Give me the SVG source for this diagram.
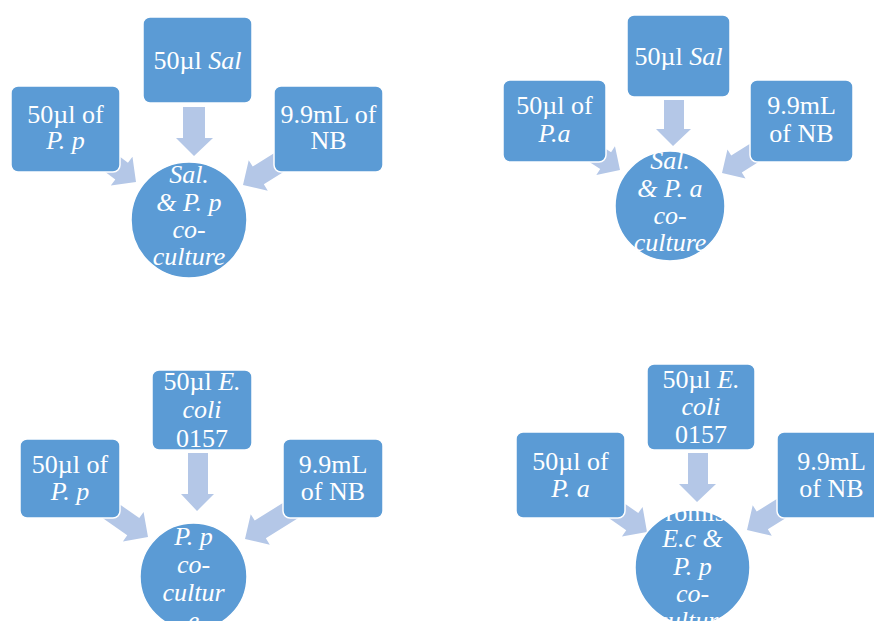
<svg xmlns="http://www.w3.org/2000/svg" xmlns:xlink="http://www.w3.org/1999/xlink" width="874" height="621" viewBox="0 0 874 621">
  <style>
    .box { fill: #5B9BD5; stroke: #FFFFFF; stroke-width: 1.5; }
    .hub { fill: #5B9BD5; stroke: #FFFFFF; stroke-width: 1.5; }
    .arrow { fill: #B4C7E7; }
    text { font-family: "Liberation Serif", "Times New Roman", serif; font-size: 26px; fill: #FFFFFF; text-anchor: middle; }
    .it { font-style: italic; }
  </style>
  <defs>
    <!-- block arrow pointing along +x, tip at origin -->
    <path id="blk" d="M0,0 L-18,-18 L-18,-10.5 L-70,-10.5 L-70,10.5 L-18,10.5 L-18,18 Z"/>
    <clipPath id="c1"><circle cx="189" cy="220" r="58"/></clipPath>
    <clipPath id="c2"><circle cx="670" cy="206" r="55"/></clipPath>
    <clipPath id="c3"><circle cx="193.5" cy="576.5" r="53.5"/></clipPath>
    <clipPath id="c4"><circle cx="692.5" cy="567.5" r="57.5"/></clipPath>
  </defs>

  <g id="connectors" class="arrow">
    <!-- panel 1 -->
    <path d="M183,107 L205,107 L205,138 L213,138 L194,156 L176,138 L183,138 Z"/>
    <use xlink:href="#blk" transform="translate(136,182) rotate(37)"/>
    <use xlink:href="#blk" transform="translate(243,185) rotate(148)"/>
    <!-- panel 2 -->
    <path d="M664,100 L684,100 L684,129 L691,129 L673,146 L656,129 L664,129 Z"/>
    <use xlink:href="#blk" transform="translate(620,170) rotate(33) scale(0.95)"/>
    <use xlink:href="#blk" transform="translate(722,173) rotate(148) scale(0.95)"/>
    <!-- panel 3 -->
    <path d="M188,453 L208,453 L208,494 L214,494 L197,511 L181,494 L188,494 Z"/>
    <use xlink:href="#blk" transform="translate(148,537) rotate(35)"/>
    <use xlink:href="#blk" transform="translate(245,539) rotate(148)"/>
    <!-- panel 4 -->
    <path d="M688,453 L708,453 L708,484 L716,484 L697,502 L679,484 L688,484 Z"/>
    <use xlink:href="#blk" transform="translate(647,532) rotate(35)"/>
    <use xlink:href="#blk" transform="translate(747,530) rotate(148)"/>
  </g>

  <!-- panel 1: Sal. & P. p -->
  <g id="hub1">
    <circle class="hub" cx="189" cy="220" r="58"/>
    <g clip-path="url(#c1)">
      <text x="189" y="183" class="it">Sal.</text>
      <text x="189" y="211" class="it">&amp; P. p</text>
      <text x="189" y="238" class="it">co-</text>
      <text x="189" y="265" class="it">culture</text>
    </g>
  </g>
  <g id="p1-top">
    <rect class="box" x="143" y="17" width="109" height="86" rx="7"/>
    <text x="197.5" y="69">50µl <tspan class="it">Sal</tspan></text>
  </g>
  <g id="p1-left">
    <rect class="box" x="11" y="86" width="109" height="86" rx="7"/>
    <text x="65.5" y="123">50µl of</text>
    <text x="65.5" y="149" class="it">P. p</text>
  </g>
  <g id="p1-right">
    <rect class="box" x="274" y="86" width="109" height="86" rx="7"/>
    <text x="328.5" y="123">9.9mL of</text>
    <text x="328.5" y="149">NB</text>
  </g>

  <!-- panel 2: Sal. & P. a -->
  <g id="hub2">
    <circle class="hub" cx="670" cy="206" r="55"/>
    <g clip-path="url(#c2)">
      <text x="670" y="169" class="it">Sal.</text>
      <text x="670" y="197" class="it">&amp; P. a</text>
      <text x="670" y="224" class="it">co-</text>
      <text x="670" y="251" class="it">culture</text>
    </g>
  </g>
  <g id="p2-top">
    <rect class="box" x="627" y="15" width="103" height="82" rx="7"/>
    <text x="678.5" y="65">50µl <tspan class="it">Sal</tspan></text>
  </g>
  <g id="p2-left">
    <rect class="box" x="503" y="80" width="103" height="82" rx="7"/>
    <text x="554.5" y="114">50µl of</text>
    <text x="554.5" y="142" class="it">P.a</text>
  </g>
  <g id="p2-right">
    <rect class="box" x="750" y="80" width="103" height="82" rx="7"/>
    <text x="801.5" y="114">9.9mL</text>
    <text x="801.5" y="142">of NB</text>
  </g>

  <!-- panel 3: P. p with E. coli -->
  <g id="hub3">
    <circle class="hub" cx="193.5" cy="576.5" r="53.5"/>
    <g clip-path="url(#c3)">
      <text x="193.5" y="545" class="it">P. p</text>
      <text x="193.5" y="573" class="it">co-</text>
      <text x="193.5" y="601" class="it">cultur</text>
      <text x="193.5" y="629" class="it">e</text>
    </g>
  </g>
  <g id="p3-top">
    <rect class="box" x="152" y="370" width="100" height="80" rx="7"/>
    <text x="202" y="390">50µl <tspan class="it">E.</tspan></text>
    <text x="202" y="418" class="it">coli</text>
    <text x="202" y="447">0157</text>
  </g>
  <g id="p3-left">
    <rect class="box" x="20" y="439" width="100" height="79" rx="7"/>
    <text x="70" y="473">50µl of</text>
    <text x="70" y="500" class="it">P. p</text>
  </g>
  <g id="p3-right">
    <rect class="box" x="283" y="439" width="100" height="79" rx="7"/>
    <text x="333" y="473">9.9mL</text>
    <text x="333" y="500">of NB</text>
  </g>

  <!-- panel 4: E.c & P. p with P. a -->
  <g id="hub4">
    <circle class="hub" cx="692.5" cy="567.5" r="57.5"/>
    <g clip-path="url(#c4)">
      <text x="688" y="521">Promis</text>
      <text x="692.5" y="547" class="it">E.c &amp;</text>
      <text x="692.5" y="575" class="it">P. p</text>
      <text x="692.5" y="602" class="it">co-</text>
      <text x="692.5" y="629" class="it">culture</text>
    </g>
  </g>
  <g id="p4-top">
    <rect class="box" x="647" y="364" width="108" height="86" rx="7"/>
    <text x="701" y="388">50µl <tspan class="it">E.</tspan></text>
    <text x="701" y="415" class="it">coli</text>
    <text x="701" y="443">0157</text>
  </g>
  <g id="p4-left">
    <rect class="box" x="516" y="432" width="109" height="86" rx="7"/>
    <text x="570.5" y="470">50µl of</text>
    <text x="570.5" y="497" class="it">P. a</text>
  </g>
  <g id="p4-right">
    <rect class="box" x="777" y="432" width="109" height="86" rx="7"/>
    <text x="831.5" y="470">9.9mL</text>
    <text x="831.5" y="497">of NB</text>
  </g>
</svg>
